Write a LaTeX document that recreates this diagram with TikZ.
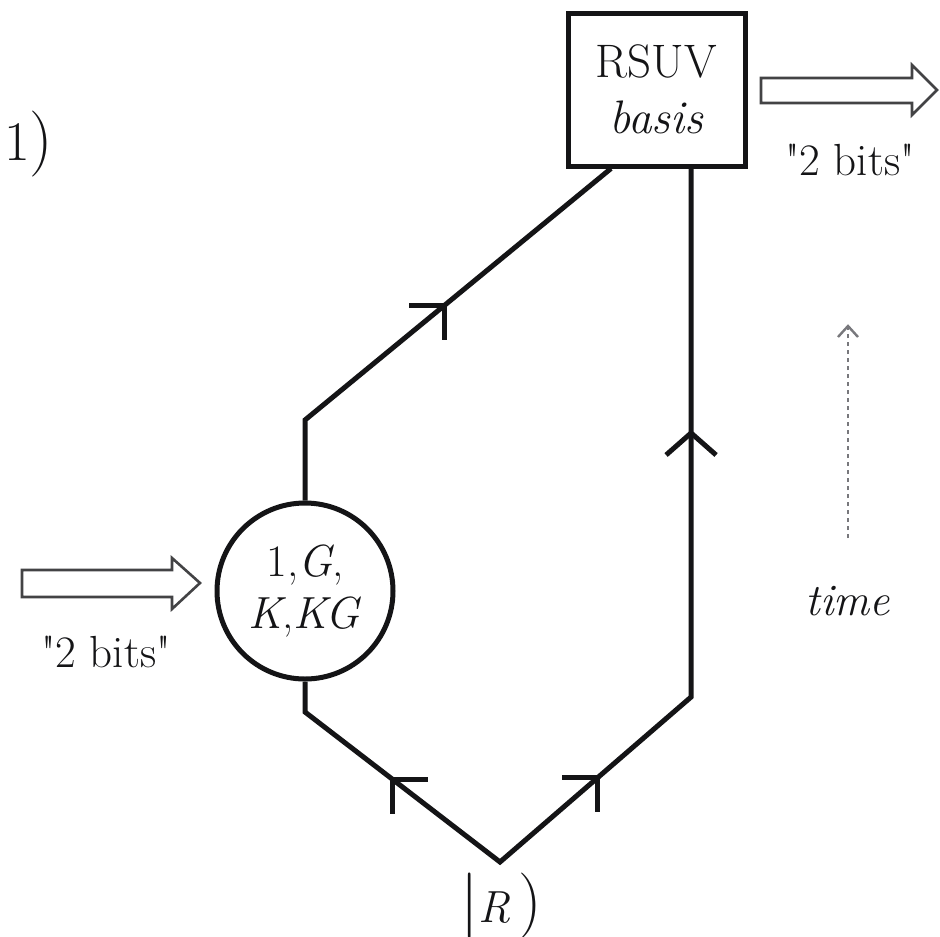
\documentclass[tikz,border=0pt]{standalone}
\usetikzlibrary{calc}
\definecolor{ink}{RGB}{20,20,22}
\definecolor{dotc}{RGB}{120,120,124}
\tikzset{
  wline/.style={line width=5pt, draw=ink, line join=miter},
  mark stroke/.style={line width=5pt, draw=ink},
  hollow arrow/.style={line width=2.6pt, draw=ink!80, fill=white, line join=miter},
  lbl/.style={font=\fontsize{45}{52}\selectfont, text=ink, inner sep=0pt},
}
\begin{document}
\begin{tikzpicture}[x=1pt,y=-1pt]
\fill[white] (0,0) rectangle (940,937);
\useasboundingbox (0,0) rectangle (940,937);

% box
\node[draw=ink, line width=5pt, minimum width=177pt, minimum height=153pt, inner sep=0pt,
      font=\fontsize{47}{58}\selectfont, align=center, text=ink] (box) at (656.5,89.5)
      {RSUV\\[-2pt]\textit{basis}};
% circle
\node[draw=ink, line width=5pt, circle, minimum size=176pt, inner sep=0pt,
      font=\fontsize{45}{52}\selectfont, align=center, text=ink] (circ) at (305,591)
      {1,\textit{G},\\\textit{K},\textit{KG}};

% bends
\coordinate (b1) at ($(box.south west)!0.25!(box.south east)$);
\coordinate (b2) at ($(box.south west)!0.69!(box.south east)$);
\coordinate (k1) at (305,420);
\coordinate (k2) at (305,712);
\coordinate (R) at (500,862);
\coordinate (k3) at (b2 |- 0,697);

\draw[wline] (b1) -- (k1) -- (circ.north);
\draw[wline] (circ.south) -- (k2) -- (R) -- (k3) -- (b2);

% direction marks
\coordinate (m1) at ($(k1)!0.455!(b1)$);
\coordinate (m2) at ($(R)!0.55!(k2)$);
\coordinate (m3) at ($(R)!0.51!(k3)$);
\coordinate (m4) at (b2 |- 0,433);
\draw[mark stroke] ($(m1)+(-35,0)$) -- (m1) -- ++(0,34);
\draw[mark stroke] ($(m2)+(35,0)$) -- (m2) -- ++(0,34);
\draw[mark stroke] ($(m3)+(-35,0)$) -- (m3) -- ++(0,34);
\draw[mark stroke, line join=miter] ($(m4)+(-25,22)$) -- (m4) -- ++(25,22);

% ket label
\node[lbl, anchor=base] (ket) at (501,922)
  {{\fontsize{66}{66}\selectfont |}\textit{R}\,{\fontsize{66}{66}\selectfont )}};
% panel label
\node[lbl, anchor=base west] (panel) at (4,160)
  {{\fontsize{56}{56}\selectfont 1}{\fontsize{66}{66}\selectfont )}};

% input arrow
\draw[hollow arrow] (22,570) -- (172,570) -- (172,558) -- (200,583) -- (172,609) -- (172,597) -- (22,597) -- cycle;
\node[lbl, anchor=base] (inbits) at (106,667) {\textquotedbl 2 bits\textquotedbl};

% output arrow
\draw[hollow arrow] (761,78) -- (912,78) -- (912,65) -- (937,90) -- (912,115) -- (912,103) -- (761,103) -- cycle;
\node[lbl, anchor=base] (outbits) at (850,175) {\textquotedbl 2 bits\textquotedbl};

% time arrow
\coordinate (t0) at (848,538);
\coordinate (t1) at (848,326);
\draw[dotc, line width=2.6pt, dash pattern=on 4pt off 4pt] (t0) -- (t1);
\draw[dotc, line width=2.4pt] ($(t1)+(-10,11)$) -- (t1) -- ++(10,11);
\node[lbl, anchor=base] (time) at (848,615) {\textit{time}};
\end{tikzpicture}
\end{document}
